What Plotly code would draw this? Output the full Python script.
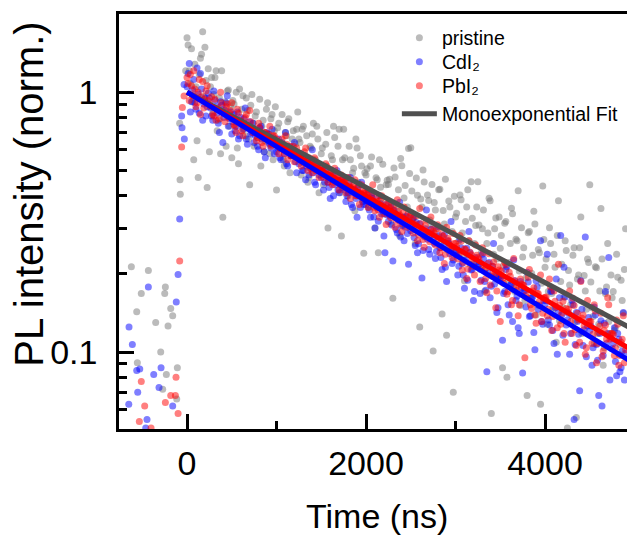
import plotly.graph_objects as go

# ---------------- data ----------------
decay_t = [
    0, 25, 50, 75, 100, 125, 150, 175, 200, 225,
    250, 275, 300, 325, 350, 375, 400, 425, 450, 475,
    500, 525, 550, 575, 600, 625, 650, 675, 700, 725,
    750, 775, 800, 825, 850, 875, 900, 925, 950, 975,
    1000, 1025, 1050, 1075, 1100, 1125, 1150, 1175, 1200, 1225,
    1250, 1275, 1300, 1325, 1350, 1375, 1400, 1425, 1450, 1475,
    1500, 1525, 1550, 1575, 1600, 1625, 1650, 1675, 1700, 1725,
    1750, 1775, 1800, 1825, 1850, 1875, 1900, 1925, 1950, 1975,
    2000, 2025, 2050, 2075, 2100, 2125, 2150, 2175, 2200, 2225,
    2250, 2275, 2300, 2325, 2350, 2375, 2400, 2425, 2450, 2475,
    2500, 2525, 2550, 2575, 2600, 2625, 2650, 2675, 2700, 2725,
    2750, 2775, 2800, 2825, 2850, 2875, 2900, 2925, 2950, 2975,
    3000, 3025, 3050, 3075, 3100, 3125, 3150, 3175, 3200, 3225,
    3250, 3275, 3300, 3325, 3350, 3375, 3400, 3425, 3450, 3475,
    3500, 3525, 3550, 3575, 3600, 3625, 3650, 3675, 3700, 3725,
    3750, 3775, 3800, 3825, 3850, 3875, 3900, 3925, 3950, 3975,
    4000, 4025, 4050, 4075, 4100, 4125, 4150, 4175, 4200, 4225,
    4250, 4275, 4300, 4325, 4350, 4375, 4400, 4425, 4450, 4475,
    4500, 4525, 4550, 4575, 4600, 4625, 4650, 4675, 4700, 4725,
    4750, 4775, 4800, 4825, 4850, 4875, 4900,
]

decay_t2 = [
    12, 37, 62, 87, 112, 137, 162, 187, 212, 237,
    262, 287, 312, 337, 362, 387, 412, 437, 462, 487,
    512, 537, 562, 587, 612, 637, 662, 687, 712, 737,
    762, 787, 812, 837, 862, 887, 912, 937, 962, 987,
    1012, 1037, 1062, 1087, 1112, 1137, 1162, 1187, 1212, 1237,
    1262, 1287, 1312, 1337, 1362, 1387, 1412, 1437, 1462, 1487,
    1512, 1537, 1562, 1587, 1612, 1637, 1662, 1687, 1712, 1737,
    1762, 1787, 1812, 1837, 1862, 1887, 1912, 1937, 1962, 1987,
    2012, 2037, 2062, 2087, 2112, 2137, 2162, 2187, 2212, 2237,
    2262, 2287, 2312, 2337, 2362, 2387, 2412, 2437, 2462, 2487,
    2512, 2537, 2562, 2587, 2612, 2637, 2662, 2687, 2712, 2737,
    2762, 2787, 2812, 2837, 2862, 2887, 2912, 2937, 2962, 2987,
    3012, 3037, 3062, 3087, 3112, 3137, 3162, 3187, 3212, 3237,
    3262, 3287, 3312, 3337, 3362, 3387, 3412, 3437, 3462, 3487,
    3512, 3537, 3562, 3587, 3612, 3637, 3662, 3687, 3712, 3737,
    3762, 3787, 3812, 3837, 3862, 3887, 3912, 3937, 3962, 3987,
    4012, 4037, 4062, 4087, 4112, 4137, 4162, 4187, 4212, 4237,
    4262, 4287, 4312, 4337, 4362, 4387, 4412, 4437, 4462, 4487,
    4512, 4537, 4562, 4587, 4612, 4637, 4662, 4687, 4712, 4737,
    4762, 4787, 4812, 4837, 4862, 4887,
]

pristine_y = [
    1.62, 1.21, 1.47, 0.55, 1.05, 0.47, 1.35, 1.71, 1.49, 0.43,
    0.59, 1.14, 0.98, 1.21, 0.78, 0.58, 0.33, 0.92, 1.01, 0.74,
    0.56, 0.90, 1.00, 0.53, 0.77, 0.97, 0.68, 0.85, 0.44, 0.98,
    0.62, 0.84, 0.70, 0.52, 0.78, 0.65, 0.91, 0.58, 0.82, 0.71,
    0.42, 0.76, 0.63, 0.55, 0.70, 0.77, 0.49, 0.66, 0.58, 0.72,
    0.66, 0.48, 0.74, 0.57, 0.45, 0.62, 0.69, 0.52, 0.74, 0.41,
    0.58, 0.44, 0.63, 0.30, 0.49, 0.55, 0.67, 0.46, 0.72, 0.28,
    0.72, 0.46, 0.40, 0.55, 0.49, 0.35, 0.61, 0.44, 0.52, 0.24,
    0.48, 0.36, 0.52, 0.41, 0.30, 0.46, 0.55, 0.39, 0.34, 0.44,
    0.441, 0.312, 0.161, 0.472, 0.358, 0.281, 0.521, 0.392, 0.331, 0.607,
    0.612, 0.328, 0.262, 0.401, 0.125, 0.362, 0.451, 0.289, 0.383, 0.309,
    0.101, 0.352, 0.278, 0.423, 0.140, 0.311, 0.116, 0.381, 0.247, 0.070,
    0.331, 0.238, 0.402, 0.287, 0.188, 0.362, 0.268, 0.452, 0.219, 0.307,
    0.452, 0.208, 0.298, 0.171, 0.262, 0.391, 0.058, 0.238, 0.328, 0.198,
    0.251, 0.087, 0.313, 0.080, 0.221, 0.358, 0.178, 0.272, 0.418, 0.151,
    0.232, 0.158, 0.068, 0.291, 0.201, 0.348, 0.139, 0.248, 0.063, 0.436,
    0.212, 0.128, 0.301, 0.168, 0.238, 0.109, 0.382, 0.187, 0.148, 0.268,
    0.051, 0.181, 0.138, 0.252, 0.056, 0.198, 0.331, 0.119, 0.172, 0.228,
    0.440, 0.148, 0.108, 0.211, 0.128, 0.357, 0.089, 0.168, 0.262, 0.118,
    0.162, 0.121, 0.238, 0.098, 0.189, 0.141, 0.298,
]
pristine_y2 = [
    1.52, 1.08, 0.92, 1.28, 0.65, 1.17, 1.40, 0.96, 1.11, 1.23,
    1.05, 0.83, 1.14, 0.71, 0.95, 1.21, 0.86, 0.62, 1.02, 0.88,
    0.93, 0.79, 0.61, 1.03, 0.86, 0.72, 0.95, 0.66, 0.89, 0.76,
    0.81, 0.67, 0.94, 0.74, 0.59, 0.86, 0.69, 0.79, 0.55, 0.88,
    0.73, 0.61, 0.82, 0.52, 0.68, 0.79, 0.57, 0.71, 0.63, 0.84,
    0.64, 0.72, 0.53, 0.68, 0.47, 0.61, 0.76, 0.55, 0.66, 0.50,
    0.61, 0.51, 0.70, 0.46, 0.57, 0.74, 0.49, 0.62, 0.41, 0.55,
    0.56, 0.47, 0.62, 0.42, 0.51, 0.66, 0.45, 0.57, 0.38, 0.49,
    0.508, 0.412, 0.563, 0.372, 0.469, 0.241, 0.431, 0.528, 0.351, 0.458,
    0.462, 0.372, 0.511, 0.338, 0.421, 0.556, 0.308, 0.438, 0.362, 0.487,
    0.417, 0.331, 0.468, 0.296, 0.388, 0.502, 0.278, 0.402, 0.322, 0.441,
    0.376, 0.298, 0.421, 0.262, 0.351, 0.462, 0.247, 0.362, 0.291, 0.398,
    0.342, 0.268, 0.386, 0.231, 0.318, 0.421, 0.218, 0.327, 0.262, 0.362,
    0.308, 0.241, 0.352, 0.209, 0.287, 0.382, 0.196, 0.298, 0.228, 0.331,
    0.281, 0.216, 0.318, 0.187, 0.262, 0.341, 0.171, 0.268, 0.205, 0.301,
    0.252, 0.193, 0.288, 0.162, 0.236, 0.311, 0.152, 0.241, 0.184, 0.271,
    0.228, 0.171, 0.262, 0.146, 0.212, 0.281, 0.132, 0.218, 0.163, 0.246,
    0.206, 0.152, 0.236, 0.131, 0.191, 0.252, 0.118, 0.197, 0.146, 0.221,
    0.186, 0.137, 0.213, 0.118, 0.172, 0.228, 0.104, 0.178, 0.131, 0.198,
    0.171, 0.124, 0.194, 0.107, 0.158, 0.208,
]

cdi2_y = [
    1.05, 1.29, 0.92, 1.12, 0.86, 0.98, 1.18, 0.78, 0.95, 0.88,
    0.95, 0.81, 1.01, 0.88, 0.76, 0.92, 0.64, 0.85, 0.97, 0.79,
    0.69, 0.82, 0.74, 0.66, 0.80, 0.72, 0.87, 0.63, 0.77, 0.70,
    0.64, 0.71, 0.60, 0.74, 0.67, 0.56, 0.69, 0.63, 0.72, 0.58,
    0.59, 0.66, 0.55, 0.62, 0.70, 0.52, 0.60, 0.57, 0.64, 0.49,
    0.53, 0.58, 0.50, 0.46, 0.55, 0.51, 0.60, 0.45, 0.53, 0.48,
    0.47, 0.42, 0.51, 0.45, 0.39, 0.48, 0.44, 0.50, 0.41, 0.46,
    0.44, 0.38, 0.41, 0.47, 0.36, 0.42, 0.33, 0.40, 0.45, 0.37,
    0.37, 0.42, 0.33, 0.39, 0.30, 0.36, 0.40, 0.34, 0.28, 0.37,
    0.318, 0.362, 0.224, 0.341, 0.287, 0.377, 0.306, 0.268, 0.334, 0.218,
    0.293, 0.328, 0.257, 0.241, 0.312, 0.193, 0.279, 0.352, 0.248, 0.297,
    0.271, 0.229, 0.304, 0.252, 0.208, 0.283, 0.187, 0.262, 0.318, 0.226,
    0.243, 0.198, 0.272, 0.219, 0.176, 0.251, 0.291, 0.207, 0.158, 0.231,
    0.213, 0.168, 0.238, 0.187, 0.084, 0.221, 0.179, 0.262, 0.196, 0.148,
    0.192, 0.111, 0.171, 0.213, 0.139, 0.183, 0.226, 0.158, 0.124, 0.187,
    0.083, 0.172, 0.203, 0.137, 0.161, 0.119, 0.188, 0.146, 0.268, 0.128,
    0.153, 0.238, 0.127, 0.172, 0.108, 0.191, 0.142, 0.281, 0.116, 0.163,
    0.133, 0.098, 0.158, 0.055, 0.142, 0.117, 0.188, 0.106, 0.277, 0.126,
    0.121, 0.089, 0.149, 0.107, 0.068, 0.132, 0.097, 0.171, 0.118, 0.078,
    0.103, 0.124, 0.081, 0.112, 0.087, 0.142, 0.099,
]
cdi2_y2 = [
    1.18, 0.84, 1.02, 0.91, 1.24, 0.83, 1.03, 0.90, 0.81, 0.99,
    0.87, 0.78, 0.93, 0.83, 0.70, 0.89, 0.80, 0.91, 0.74, 0.84,
    0.77, 0.71, 0.84, 0.68, 0.75, 0.79, 0.66, 0.73, 0.69, 0.76,
    0.68, 0.62, 0.73, 0.66, 0.59, 0.70, 0.64, 0.61, 0.67, 0.63,
    0.61, 0.56, 0.64, 0.58, 0.53, 0.62, 0.57, 0.60, 0.54, 0.57,
    0.55, 0.50, 0.57, 0.52, 0.48, 0.54, 0.49, 0.44, 0.51, 0.50,
    0.49, 0.45, 0.48, 0.43, 0.47, 0.40, 0.46, 0.42, 0.45, 0.43,
    0.42, 0.40, 0.44, 0.37, 0.41, 0.39, 0.43, 0.36, 0.38, 0.40,
    0.381, 0.352, 0.397, 0.331, 0.366, 0.319, 0.372, 0.348, 0.241, 0.337,
    0.336, 0.308, 0.351, 0.296, 0.322, 0.277, 0.331, 0.302, 0.286, 0.315,
    0.302, 0.276, 0.315, 0.261, 0.289, 0.246, 0.298, 0.272, 0.238, 0.283,
    0.262, 0.244, 0.281, 0.231, 0.257, 0.212, 0.268, 0.239, 0.219, 0.251,
    0.237, 0.214, 0.252, 0.198, 0.226, 0.189, 0.241, 0.208, 0.171, 0.222,
    0.218, 0.189, 0.228, 0.173, 0.201, 0.162, 0.214, 0.183, 0.142, 0.196,
    0.196, 0.168, 0.208, 0.152, 0.181, 0.131, 0.188, 0.164, 0.118, 0.176,
    0.172, 0.149, 0.186, 0.138, 0.163, 0.102, 0.178, 0.151, 0.131, 0.158,
    0.158, 0.133, 0.171, 0.121, 0.148, 0.098, 0.162, 0.139, 0.212, 0.127,
    0.141, 0.118, 0.152, 0.107, 0.131, 0.071, 0.146, 0.122, 0.096, 0.136,
    0.126, 0.104, 0.139, 0.093, 0.118, 0.062, 0.129, 0.108, 0.231, 0.113,
    0.108, 0.092, 0.118, 0.084, 0.101, 0.078,
]

pbi2_y = [
    1.14, 0.93, 1.06, 1.21, 0.88, 1.00, 0.82, 1.10, 0.94, 1.06,
    0.90, 0.96, 0.81, 0.78, 0.87, 1.00, 0.84, 0.77, 0.90, 0.83,
    0.91, 0.75, 0.70, 0.83, 0.77, 0.68, 0.80, 0.74, 0.85, 0.72,
    0.72, 0.65, 0.76, 0.69, 0.62, 0.70, 0.66, 0.74, 0.63, 0.68,
    0.66, 0.58, 0.63, 0.60, 0.68, 0.55, 0.62, 0.59, 0.54, 0.61,
    0.58, 0.52, 0.55, 0.61, 0.50, 0.54, 0.49, 0.56, 0.52, 0.47,
    0.50, 0.47, 0.53, 0.45, 0.49, 0.44, 0.51, 0.46, 0.42, 0.48,
    0.45, 0.41, 0.47, 0.39, 0.43, 0.46, 0.40, 0.37, 0.44, 0.41,
    0.41, 0.36, 0.39, 0.44, 0.35, 0.38, 0.33, 0.40, 0.36, 0.31,
    0.371, 0.329, 0.352, 0.302, 0.386, 0.338, 0.291, 0.362, 0.317, 0.344,
    0.338, 0.287, 0.311, 0.268, 0.357, 0.296, 0.253, 0.322, 0.279, 0.331,
    0.292, 0.258, 0.309, 0.241, 0.283, 0.219, 0.302, 0.268, 0.247, 0.286,
    0.262, 0.228, 0.281, 0.207, 0.249, 0.192, 0.268, 0.237, 0.214, 0.258,
    0.231, 0.187, 0.252, 0.208, 0.169, 0.239, 0.198, 0.222, 0.148, 0.213,
    0.131, 0.192, 0.221, 0.167, 0.203, 0.152, 0.229, 0.178, 0.138, 0.191,
    0.181, 0.095, 0.162, 0.208, 0.147, 0.177, 0.129, 0.168, 0.198, 0.141,
    0.162, 0.138, 0.191, 0.121, 0.172, 0.149, 0.218, 0.128, 0.157, 0.109,
    0.143, 0.172, 0.118, 0.151, 0.106, 0.133, 0.187, 0.139, 0.098, 0.158,
    0.131, 0.108, 0.152, 0.091, 0.119, 0.141, 0.101, 0.127, 0.162, 0.112,
    0.118, 0.097, 0.133, 0.089, 0.109, 0.138, 0.102,
]
pbi2_y2 = [
    1.08, 1.17, 0.97, 1.03, 0.91, 1.12, 0.96, 0.87, 1.01, 0.93,
    0.88, 0.82, 0.94, 0.86, 0.79, 0.91, 0.83, 0.88, 0.80, 0.85,
    0.80, 0.74, 0.86, 0.78, 0.71, 0.76, 0.82, 0.73, 0.77, 0.70,
    0.71, 0.67, 0.73, 0.64, 0.70, 0.66, 0.69, 0.62, 0.68, 0.65,
    0.64, 0.61, 0.66, 0.58, 0.63, 0.60, 0.57, 0.62, 0.59, 0.56,
    0.57, 0.54, 0.59, 0.53, 0.56, 0.51, 0.55, 0.50, 0.53, 0.51,
    0.51, 0.48, 0.52, 0.47, 0.50, 0.45, 0.49, 0.47, 0.44, 0.46,
    0.46, 0.43, 0.45, 0.42, 0.44, 0.40, 0.43, 0.41, 0.39, 0.42,
    0.402, 0.378, 0.412, 0.361, 0.393, 0.352, 0.384, 0.366, 0.341, 0.374,
    0.358, 0.336, 0.367, 0.321, 0.349, 0.311, 0.343, 0.326, 0.302, 0.332,
    0.321, 0.298, 0.334, 0.283, 0.312, 0.271, 0.306, 0.289, 0.266, 0.297,
    0.287, 0.264, 0.298, 0.252, 0.279, 0.238, 0.274, 0.256, 0.231, 0.262,
    0.255, 0.236, 0.267, 0.221, 0.248, 0.209, 0.242, 0.227, 0.198, 0.236,
    0.228, 0.209, 0.241, 0.192, 0.219, 0.181, 0.214, 0.198, 0.172, 0.207,
    0.205, 0.184, 0.217, 0.171, 0.196, 0.158, 0.188, 0.173, 0.152, 0.183,
    0.181, 0.166, 0.194, 0.152, 0.172, 0.139, 0.168, 0.157, 0.131, 0.162,
    0.163, 0.146, 0.178, 0.137, 0.157, 0.124, 0.151, 0.141, 0.118, 0.147,
    0.146, 0.131, 0.161, 0.122, 0.141, 0.109, 0.135, 0.126, 0.104, 0.131,
    0.131, 0.117, 0.144, 0.108, 0.126, 0.096, 0.121, 0.112, 0.152, 0.118,
    0.117, 0.104, 0.128, 0.097, 0.112, 0.091,
]

# baseline / rising-edge points before time zero
pristine_pre_t = [-622, -562, -555, -511, -432, -350, -294, -272, -249, -242,
                  -231, -212, -182, -160, -115, -108, -82, -78, -75, -15]
pristine_pre_y = [0.213, 0.143, 0.091, 0.168, 0.206, 0.130, 0.100, 0.072, 0.168, 0.178,
                  0.082, 0.126, 0.147, 0.138, 0.066, 0.087, 0.76, 0.46, 0.405, 1.21]
cdi2_pre_t = [-651, -648, -611, -562, -551, -528, -461, -447, -432, -372,
              -313, -290, -160, -120, -100, -82, -60, -56, -33, -30]
cdi2_pre_y = [0.063, 0.125, 0.107, 0.085, 0.070, 0.086, 0.051, 0.055, 0.178, 0.082,
              0.073, 0.087, 0.062, 0.156, 0.199, 0.325, 0.81, 0.73, 1.07, 0.66]
pbi2_pre_t = [-533, -511, -473, -402, -242, -182, -130, -123, -100, -82, -60, -52, -33]
pbi2_pre_y = [0.054, 0.077, 0.062, 0.051, 0.064, 0.068, 0.068, 0.080, 0.058, 0.224,
              0.616, 0.873, 0.967]

# monoexponential fits (end points, straight on the log axis)
fit_t = [0, 5000]
fit_pristine = [1.0, 0.1215]
fit_cdi2 = [1.0, 0.0902]
fit_pbi2 = [1.0, 0.1005]

names = ["pristine", "CdI\u2082", "PbI\u2082"]
colors = ["rgba(120,120,120,0.5)", "rgba(0,0,255,0.5)", "rgba(255,0,0,0.5)"]
legend_ids = ["legend", "legend2", "legend3"]

# ---------------- figure ----------------
fig = go.Figure()
series = [
    (pristine_pre_t + decay_t + decay_t2, pristine_pre_y + pristine_y + pristine_y2),
    (cdi2_pre_t + decay_t + decay_t2, cdi2_pre_y + cdi2_y + cdi2_y2),
    (pbi2_pre_t + decay_t + decay_t2, pbi2_pre_y + pbi2_y + pbi2_y2),
]
for (xs, ys), nm, col, lg in zip(series, names, colors, legend_ids):
    fig.add_trace(go.Scatter(x=xs, y=ys, mode="markers", name=nm, legend=lg,
                             marker=dict(size=7, color=col, line=dict(width=0))))

fig.add_trace(go.Scatter(x=fit_t, y=fit_pristine, mode="lines", name="Monoexponential Fit",
                         legend="legend4", line=dict(color="#505050", width=5)))
fig.add_trace(go.Scatter(x=fit_t, y=fit_pbi2, mode="lines", showlegend=False,
                         line=dict(color="#ff0000", width=5)))
fig.add_trace(go.Scatter(x=fit_t, y=fit_cdi2, mode="lines", showlegend=False,
                         line=dict(color="#0000ff", width=5)))

axis_common = dict(showline=True, linewidth=2.5, linecolor="black", showgrid=False,
                   zeroline=False, ticks="inside", ticklen=15, tickwidth=2.5,
                   tickcolor="black", tickfont=dict(size=34, color="black"),
                   automargin=False)


def legend_box(ypos):
    return dict(x=0.547, y=ypos, xanchor="left", yanchor="middle",
                font=dict(size=19.5, color="black"), bgcolor="rgba(0,0,0,0)",
                itemwidth=35)


fig.update_layout(
    width=627, height=537,
    margin=dict(l=119, r=0, t=14, b=108, autoexpand=False),
    paper_bgcolor="white", plot_bgcolor="white",
    font=dict(family="Liberation Sans, Arial, sans-serif", color="black", size=34),
    showlegend=True,
    legend=legend_box(0.942),
    legend2=legend_box(0.884),
    legend3=legend_box(0.8265),
    legend4=legend_box(0.759),
    xaxis=dict(range=[-760, 4916], tickmode="array", tickvals=[0, 2000, 4000],
               ticktext=["0", "2000", "4000"], mirror=True,
               minor=dict(tickvals=[1000, 3000], ticks="inside", ticklen=8,
                          tickwidth=2.5, tickcolor="black"),
               ticklabelstandoff=2,
               **axis_common),
    yaxis=dict(type="log", range=[-1.296, 0.301], tickmode="array", tickvals=[0.1, 1],
               ticktext=["0.1", "1"], mirror=False,
               minor=dict(tickvals=[0.06, 0.07, 0.08, 0.09, 0.2, 0.3, 0.4, 0.5,
                                    0.6, 0.7, 0.8, 0.9],
                          ticks="inside", ticklen=8, tickwidth=2.5, tickcolor="black"),
               ticklabelstandoff=12,
               **axis_common),
    annotations=[
        dict(text="Time (ns)", xref="paper", yref="paper", x=0.508, y=-0.21,
             xanchor="center", yanchor="middle", showarrow=False,
             font=dict(size=34, color="black")),
        dict(text="PL intensity (norm.)", xref="paper", yref="paper", x=-0.176, y=0.566,
             xanchor="center", yanchor="middle", showarrow=False, textangle=-90,
             font=dict(size=40, color="black")),
    ],
)

fig.write_html("out.html", config={"displayModeBar": False},
               post_script="document.body.style.margin='0';"
                           "document.body.style.overflow='hidden';")
